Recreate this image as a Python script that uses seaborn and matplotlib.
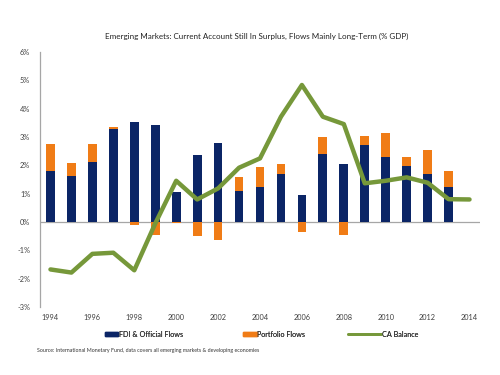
import matplotlib
matplotlib.use("Agg")
import matplotlib.pyplot as plt
import seaborn as sns
import pandas as pd
import numpy as np
from matplotlib.patches import Patch
from matplotlib.lines import Line2D

years = list(range(1994, 2014))
fdi = [1.81, 1.64, 2.11, 3.27, 3.52, 3.42, 1.07, 2.36, 2.78, 1.11,
       1.25, 1.69, 0.94, 2.40, 2.04, 2.72, 2.31, 1.98, 1.69, 1.25]
portfolio = [0.95, 0.43, 0.63, 0.07, -0.10, -0.45, -0.03, -0.49, -0.64, 0.47,
             0.70, 0.36, -0.34, 0.61, -0.44, 0.31, 0.82, 0.31, 0.85, 0.54]
ca_years = list(range(1994, 2015))
ca_balance = [-1.67, -1.78, -1.12, -1.08, -1.70, -0.05, 1.46, 0.80, 1.19, 1.92,
              2.25, 3.72, 4.84, 3.72, 3.46, 1.37, 1.46, 1.58, 1.39, 0.81, 0.80]
y_ticks = [-3, -2, -1, 0, 1, 2, 3, 4, 5, 6]
x_ticks = list(range(1994, 2015, 2))

title = "Emerging Markets: Current Account Still In Surplus, Flows Mainly Long-Term (% GDP)"
source = "Source: International Monetary Fund, data covers all emerging markets & developing economies"

navy = "#0B2566"
orange = "#F07C16"
green = "#76983A"

sns.set_theme(style="white")
plt.rcParams['font.family'] = ['Lato', 'DejaVu Sans']

fig = plt.figure(figsize=(5, 3.75), dpi=100)
ax = fig.add_axes([0.08, 0.181, 0.88, 0.68])

# orange top = stacked total when positive, own value when negative
orange_vals = [f + p if p > 0 else p for f, p in zip(fdi, portfolio)]
df_bars = pd.DataFrame({"year": years, "fdi": fdi, "orange": orange_vals})
df_ca = pd.DataFrame({"year": ca_years, "ca": ca_balance})

sns.barplot(data=df_bars, x="year", y="orange", native_scale=True, width=0.42,
            color=orange, saturation=1, ax=ax, linewidth=0, zorder=2)
sns.barplot(data=df_bars, x="year", y="fdi", native_scale=True, width=0.42,
            color=navy, saturation=1, ax=ax, linewidth=0, zorder=3)
sns.lineplot(data=df_ca, x="year", y="ca", color=green, linewidth=3.2, ax=ax,
             zorder=4, solid_joinstyle="round", solid_capstyle="round")

ax.axhline(0, color="#A6A6A6", linewidth=0.9, zorder=1)
ax.set_xlim(1993.5, 2014.5)
ax.set_ylim(-3, 6)
ax.set_yticks(y_ticks)
ax.set_yticklabels([f"{t}%" for t in y_ticks])
ax.set_xticks(x_ticks)
ax.set_xticklabels([str(t) for t in x_ticks])
ax.tick_params(axis="both", length=0, labelsize=5.3, colors="#404040")
ax.tick_params(axis="y", pad=7)
ax.tick_params(axis="x", pad=5)
ax.set_xlabel("")
ax.set_ylabel("")
for s in ["top", "right", "bottom"]:
    ax.spines[s].set_visible(False)
ax.spines["left"].set_color("#A6A6A6")
ax.spines["left"].set_linewidth(0.9)

fig.text(0.514, 0.903, title, ha="center", va="center", fontsize=5.8, color="#222222")

leg_items = [
    (Patch(color=navy), "FDI & Official Flows", 0.209, 1.9),
    (Patch(color=orange), "Portfolio Flows", 0.486, 1.9),
    (Line2D([], [], color=green, linewidth=2), "CA Balance", 0.696, 4.6),
]
for h, lab, x0, hl in leg_items:
    leg = fig.legend([h], [lab], loc="center left", bbox_to_anchor=(x0, 0.109),
                     frameon=False, fontsize=5.2, handlelength=hl, handleheight=0.4,
                     handletextpad=0.1, borderpad=0, borderaxespad=0,
                     labelcolor="#333333")
    fig.add_artist(leg)

fig.text(0.074, 0.065, source, ha="left", va="center", fontsize=3.8, color="#333333")

fig.savefig("out.png", dpi=100)
